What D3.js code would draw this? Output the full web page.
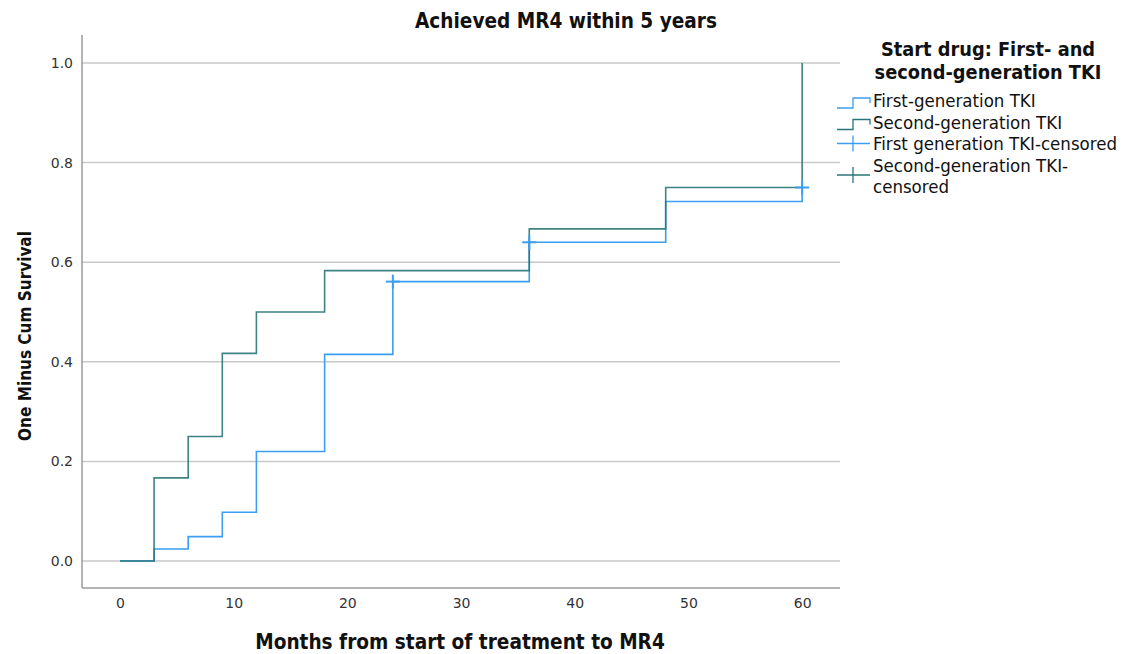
<!DOCTYPE html>
<html>
<head>
<meta charset="utf-8">
<script src="https://cdn.jsdelivr.net/npm/d3@7"></script>
<style>
  html, body { margin: 0; padding: 0; background: #fff; }
  svg { display: block; }
  text { font-family: "DejaVu Sans Condensed", "DejaVu Sans", sans-serif; font-stretch: condensed; }
</style>
</head>
<body>
<svg id="chart" width="1134" height="654"></svg>
<script>
// Kaplan-Meier step data: months and cumulative proportion achieving MR4
const firstGenMonths  = [0, 3, 6, 9, 12, 18, 24, 36, 48, 60];
const firstGenValues  = [0, 0.024, 0.049, 0.098, 0.220, 0.415, 0.561, 0.640, 0.722, 0.750];
const secondGenMonths = [0, 3, 6, 9, 12, 18, 36, 48, 60];
const secondGenValues = [0, 0.167, 0.250, 0.417, 0.500, 0.583, 0.667, 0.750, 1.000];
// censored observations (first-generation TKI)
const firstCensMonths = [24, 36, 60];
const firstCensValues = [0.561, 0.640, 0.750];

const xTicks = [0, 10, 20, 30, 40, 50, 60];
const yTicks = [0.0, 0.2, 0.4, 0.6, 0.8, 1.0];

const seriesNames = ["First-generation TKI", "Second-generation TKI"];
const censorNames = ["First generation TKI-censored", ["Second-generation TKI-", "censored"]];

const colFirst = "#3a9ef2";
const colSecond = "#2a7677";

const svg = d3.select("#chart");
const plot = { left: 82, right: 840, top: 35, bottom: 588 };

const x = d3.scaleLinear().domain([-3.34, 63.33]).range([plot.left, plot.right]);
const y = d3.scaleLinear().domain([-0.0542, 1.0562]).range([plot.bottom, plot.top]);

// gridlines
svg.append("g").selectAll("line").data(yTicks).join("line")
  .attr("x1", plot.left).attr("x2", plot.right)
  .attr("y1", d => y(d)).attr("y2", d => y(d))
  .attr("stroke", "#c9c9c9").attr("stroke-width", 1.5);

// axes
const yAxis = svg.append("g").attr("transform", `translate(${plot.left},0)`)
  .call(d3.axisLeft(y).tickValues(yTicks).tickFormat(d3.format(".1f")).tickSize(0).tickPadding(9));
const xAxis = svg.append("g").attr("transform", `translate(0,${plot.bottom})`)
  .call(d3.axisBottom(x).tickValues(xTicks).tickFormat(d3.format("d")).tickSize(0).tickPadding(10));
[yAxis, xAxis].forEach(a => {
  a.select(".domain").attr("stroke", "#9a9a9a").attr("stroke-width", 1.5);
  a.selectAll("text").attr("fill", "#333").style("font-family", "'DejaVu Sans', sans-serif")
    .style("font-stretch", "normal").attr("font-size", 14);
});
yAxis.select(".domain").attr("d", `M0,${plot.bottom}V${plot.top}`);
xAxis.select(".domain").attr("d", `M${plot.left},0H${plot.right}`);

// step curves
const line = d3.line().x(d => x(d[0])).y(d => y(d[1])).curve(d3.curveStepAfter);
const firstData = firstGenMonths.map((m, i) => [m, firstGenValues[i]]);
const secondData = secondGenMonths.map((m, i) => [m, secondGenValues[i]]);

svg.append("path").datum(firstData).attr("d", line)
  .attr("fill", "none").attr("stroke", colFirst).attr("stroke-width", 1.6);
svg.append("path").datum(secondData).attr("d", line)
  .attr("fill", "none").attr("stroke", colSecond).attr("stroke-width", 1.6).attr("stroke-opacity", 0.9);

// censor marks
const cens = svg.append("g");
firstCensMonths.forEach((m, i) => {
  const cx = x(m), cy = y(firstCensValues[i]);
  cens.append("line").attr("x1", cx - 7).attr("x2", cx + 7).attr("y1", cy).attr("y2", cy)
    .attr("stroke", colFirst).attr("stroke-width", 2);
  cens.append("line").attr("x1", cx).attr("x2", cx).attr("y1", cy - 7).attr("y2", cy + 7)
    .attr("stroke", colFirst).attr("stroke-width", 2);
});

// titles
svg.append("text").attr("x", 566).attr("y", 28).attr("text-anchor", "middle")
  .attr("font-weight", "bold").attr("font-size", 20.6).attr("fill", "#111")
  .text("Achieved MR4 within 5 years");
svg.append("text").attr("x", 460).attr("y", 649).attr("text-anchor", "middle")
  .attr("font-weight", "bold").attr("font-size", 20.6).attr("fill", "#111")
  .text("Months from start of treatment to MR4");
svg.append("text").attr("transform", "translate(31,336) rotate(-90)").attr("text-anchor", "middle")
  .attr("font-weight", "bold").attr("font-size", 17).attr("fill", "#111")
  .text("One Minus Cum Survival");

// legend
const lg = svg.append("g");
lg.append("text").attr("x", 988).attr("y", 56).attr("text-anchor", "middle")
  .attr("font-weight", "bold").attr("font-size", 19.8).attr("fill", "#111")
  .text("Start drug: First- and");
lg.append("text").attr("x", 988).attr("y", 79.3).attr("text-anchor", "middle")
  .attr("font-weight", "bold").attr("font-size", 19.8).attr("fill", "#111")
  .text("second-generation TKI");

const itemFont = 18.5;
const stepItems = [
  { name: seriesNames[0], color: colFirst, icon: 108, base: 107 },
  { name: seriesNames[1], color: colSecond, icon: 129.5, base: 128.5 }
];
stepItems.forEach(it => {
  const b = it.icon;
  lg.append("path")
    .attr("d", `M837,${b}H853V${b - 10}H870V${b - 5}`)
    .attr("fill", "none").attr("stroke", it.color).attr("stroke-width", 1.3);
  lg.append("text").attr("x", 873).attr("y", it.base).attr("font-size", itemFont).attr("fill", "#111").text(it.name);
});

const censItems = [
  { name: censorNames[0], color: colFirst, mid: 143.5, base: 150 },
  { name: censorNames[1], color: colSecond, mid: 175, base: 171.5 }
];
censItems.forEach(it => {
  lg.append("line").attr("x1", 837).attr("x2", 870).attr("y1", it.mid).attr("y2", it.mid)
    .attr("stroke", it.color).attr("stroke-width", 1.3);
  lg.append("line").attr("x1", 853).attr("x2", 853).attr("y1", it.mid - 8).attr("y2", it.mid + 8)
    .attr("stroke", it.color).attr("stroke-width", 1.3);
  const t = lg.append("text").attr("x", 873).attr("y", it.base).attr("font-size", itemFont).attr("fill", "#111");
  const lines = Array.isArray(it.name) ? it.name : [it.name];
  lines.forEach((s, i) => t.append("tspan").attr("x", 873).attr("dy", i === 0 ? 0 : 21.5).text(s));
});
</script>
</body>
</html>
